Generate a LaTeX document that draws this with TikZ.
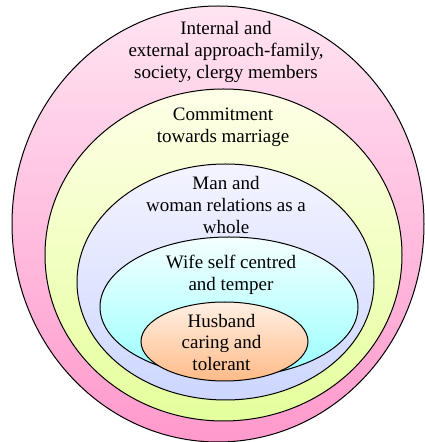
\documentclass[tikz,border=0pt]{standalone}
\usepackage{fontspec}
\setmainfont{Liberation Serif}
\definecolor{pinkT}{HTML}{FFE4F2}
\definecolor{pinkB}{HTML}{FF99CC}
\definecolor{yelT}{HTML}{FFFFE8}
\definecolor{yelB}{HTML}{E4FF9C}
\definecolor{lavT}{HTML}{F4F4FF}
\definecolor{lavB}{HTML}{CCD6FF}
\definecolor{cyaT}{HTML}{F4FFFF}
\definecolor{cyaB}{HTML}{99FFFF}
\definecolor{oraT}{HTML}{FFF0E4}
\definecolor{oraB}{HTML}{FFBB88}
\tikzset{
  ring/.style={draw=black, line width=1pt},
  lbl/.style={align=center, font=\fontsize{19}{21.8}\selectfont, inner sep=0pt}
}
\begin{document}
\begin{tikzpicture}[x=1pt,y=1pt]
\useasboundingbox (0,0) rectangle (425,442);
\shadedraw[ring, top color=pinkT, bottom color=pinkB] (218,218) ellipse [x radius=206, y radius=218];
\shadedraw[ring, top color=yelT, bottom color=yelB] (223.5,187) ellipse [x radius=178.5, y radius=166];
\shadedraw[ring, top color=lavT, bottom color=lavB] (225.5,160) ellipse [x radius=148.5, y radius=118];
\shadedraw[ring, top color=cyaT, bottom color=cyaB] (229,135) ellipse [x radius=129, y radius=70];
\shadedraw[ring, top color=oraT, bottom color=oraB] (224.5,100.5) ellipse [x radius=83.5, y radius=39.5];
\node[lbl] (t1) at (226,390) {Internal and\\external approach-family,\\society, clergy members};
\node[lbl] (t2) at (223,315) {Commitment\\towards marriage};
\node[lbl] (t3) at (226,237) {Man and\\woman relations as a\\whole};
\node[lbl] (t4) at (231,167) {Wife self centred\\and temper};
\node[lbl] (t5) at (221.5,99.5) {Husband\\caring and\\tolerant};
\end{tikzpicture}
\end{document}
